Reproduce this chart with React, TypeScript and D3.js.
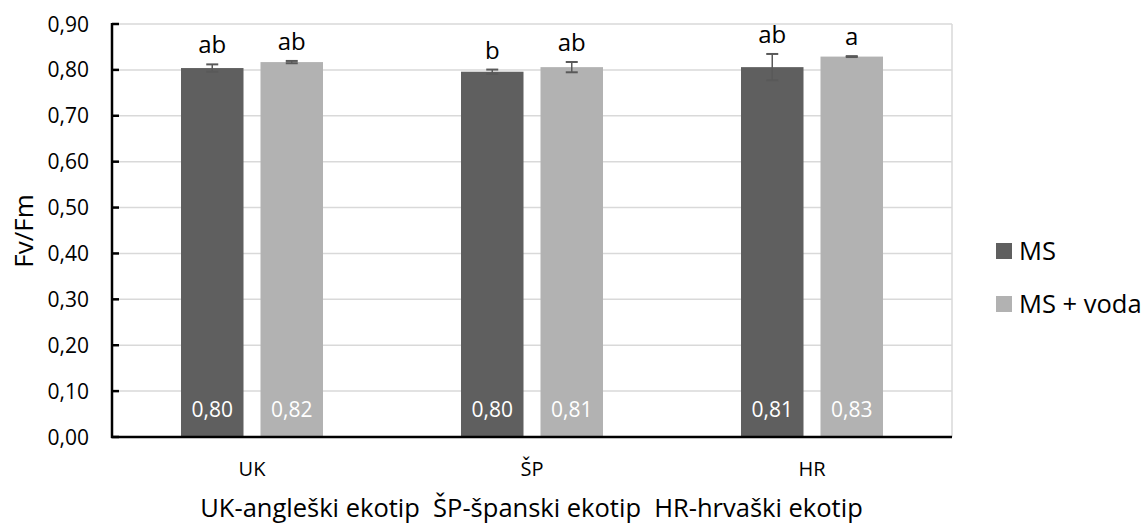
import React from "react";
import * as d3 from "d3";

const categories = ["UK", "ŠP", "HR"];
const seriesNames = ["MS", "MS + voda"];
const msValues = [0.804, 0.796, 0.806];
const msVodaValues = [0.817, 0.806, 0.829];
const msErrors = [0.008, 0.0047, 0.0287];
const msVodaErrors = [0.0025, 0.0112, 0.001];
const msLetters = ["ab", "b", "ab"];
const msVodaLetters = ["ab", "ab", "a"];
const yTicks = [0, 0.1, 0.2, 0.3, 0.4, 0.5, 0.6, 0.7, 0.8, 0.9];
const yTitle = "Fv/Fm";
const xTitle = "UK-angleški ekotip  ŠP-španski ekotip  HR-hrvaški ekotip";

const colors = ["#5f5f5f", "#b2b2b2"];
const FONT = "'Open Sans', 'DejaVu Sans', sans-serif";

export default function App() {
  const W = 1145, H = 523;
  const left = 112, right = 952, top = 24, bottom = 437;
  const x = d3.scaleBand<string>().domain(categories).range([left, right]).paddingInner(0).paddingOuter(0);
  const inner = d3.scaleBand<string>().domain(seriesNames).range([69, 211]).paddingInner(17 / 79.5).paddingOuter(0);
  const y = d3.scaleLinear().domain([0, 0.9]).range([bottom, top]);
  const fmt = (v: number) => v.toFixed(2).replace(".", ",");

  const series = [
    { name: seriesNames[0], values: msValues, errors: msErrors, letters: msLetters, color: colors[0] },
    { name: seriesNames[1], values: msVodaValues, errors: msVodaErrors, letters: msVodaLetters, color: colors[1] },
  ];

  return (
    <svg width={W} height={H} style={{ position: "absolute", left: 0, top: 0, background: "#fff" }} fontFamily={FONT}>
      {/* gridlines */}
      {yTicks.map((t) => (
        <line key={"g" + t} x1={left} x2={right} y1={y(t)} y2={y(t)} stroke="#d9d9d9" strokeWidth={1.5} />
      ))}
      <line x1={right} x2={right} y1={top} y2={bottom} stroke="#d9d9d9" strokeWidth={1.5} />
      {/* bars */}
      {series.map((s) =>
        categories.map((c, i) => {
          const bx = (x(c) as number) + (inner(s.name) as number);
          const bw = inner.bandwidth();
          const cx = bx + bw / 2;
          const v = s.values[i];
          const e = s.errors[i];
          return (
            <g key={s.name + c}>
              <rect x={bx} y={y(v)} width={bw} height={y(0) - y(v)} fill={s.color} />
              <line x1={cx} x2={cx} y1={y(v + e)} y2={y(v - e)} stroke="#595959" strokeWidth={1.5} />
              <line x1={cx - 6} x2={cx + 6} y1={y(v + e)} y2={y(v + e)} stroke="#595959" strokeWidth={2} />
              <line x1={cx - 6} x2={cx + 6} y1={y(v - e)} y2={y(v - e)} stroke="#595959" strokeWidth={2} />
              <text x={cx} y={y(v + e) - 11} textAnchor="middle" fontSize={24} fill="#000">{s.letters[i]}</text>
              <text x={cx} y={417} textAnchor="middle" fontSize={21} fill="#ffffff">{fmt(v)}</text>
            </g>
          );
        })
      )}
      {/* axes */}
      <line x1={left} x2={left} y1={top - 1} y2={bottom + 1} stroke="#000" strokeWidth={2.5} />
      <line x1={left - 1} x2={right} y1={bottom} y2={bottom} stroke="#000" strokeWidth={2.5} />
      {yTicks.map((t) => (
        <g key={"t" + t}>
          <line x1={left} x2={left + 7} y1={y(t)} y2={y(t)} stroke="#000" strokeWidth={2.5} />
          <text x={89} y={y(t) + 7.5} textAnchor="end" fontSize={21} fill="#000">{fmt(t)}</text>
        </g>
      ))}
      {categories.map((c) => (
        <text key={"c" + c} x={(x(c) as number) + x.bandwidth() / 2} y={476} textAnchor="middle" fontSize={20} fill="#000">{c}</text>
      ))}
      <text transform={`translate(33, 231) rotate(-90)`} textAnchor="middle" fontSize={26} fill="#000">{yTitle}</text>
      <text x={(left + right) / 2 - 0.5} y={517} textAnchor="middle" fontSize={25.5} fill="#000" style={{ whiteSpace: "pre" }}>{xTitle}</text>
      {/* legend */}
      {series.map((s, i) => (
        <g key={"l" + s.name} transform={`translate(996, ${243 + i * 53})`}>
          <rect x={0} y={0} width={16} height={16} fill={s.color} />
          <text x={23} y={16.5} fontSize={25.5} fill="#000">{s.name}</text>
        </g>
      ))}
    </svg>
  );
}
